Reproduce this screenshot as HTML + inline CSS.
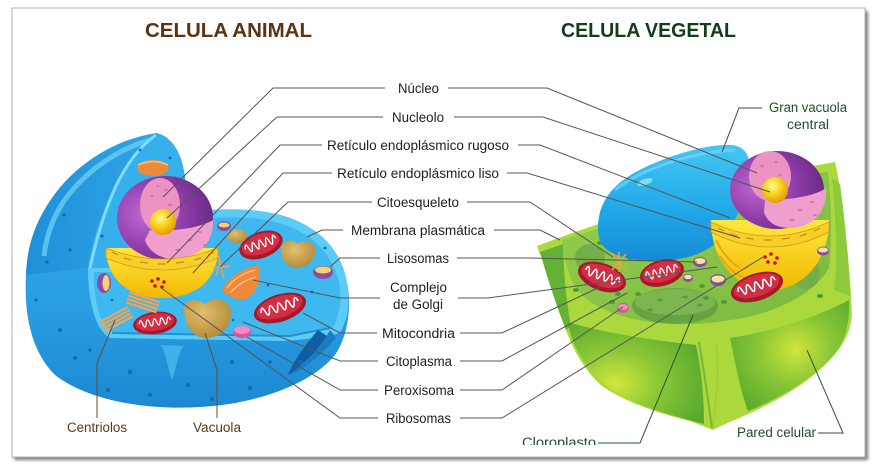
<!DOCTYPE html>
<html><head><meta charset="utf-8"><style>
html,body{margin:0;padding:0;background:#fff;width:877px;height:473px;overflow:hidden}
svg{display:block}
text{font-family:"Liberation Sans",sans-serif}
</style></head><body>
<svg width="877" height="473" viewBox="0 0 877 473" xmlns="http://www.w3.org/2000/svg">
<defs>
<filter id="sh" x="-5%" y="-5%" width="110%" height="110%"><feGaussianBlur stdDeviation="1.6"/></filter>
<linearGradient id="aBody" x1="0" y1="0" x2="0" y2="1"><stop offset="0" stop-color="#39adea"/><stop offset="0.6" stop-color="#2a9fe3"/><stop offset="1" stop-color="#1c88d2"/></linearGradient>
<linearGradient id="aDome" x1="0" y1="0" x2="1" y2="0"><stop offset="0" stop-color="#1f8fd8"/><stop offset="1" stop-color="#2ea6e7"/></linearGradient>
<radialGradient id="nucP" cx="0.3" cy="0.45" r="0.7"><stop offset="0" stop-color="#bf6ad4"/><stop offset="0.6" stop-color="#8d3ca8"/><stop offset="1" stop-color="#6a2a88"/></radialGradient>
<radialGradient id="nucl" cx="0.4" cy="0.35" r="0.65"><stop offset="0" stop-color="#fffa9a"/><stop offset="0.5" stop-color="#f8d21a"/><stop offset="1" stop-color="#e59d00"/></radialGradient>
<linearGradient id="erY" x1="0" y1="0" x2="0" y2="1"><stop offset="0" stop-color="#ffe640"/><stop offset="1" stop-color="#f2b900"/></linearGradient>
<radialGradient id="brown" cx="0.4" cy="0.35" r="0.7"><stop offset="0" stop-color="#e3bf6e"/><stop offset="1" stop-color="#b08a38"/></radialGradient>
<radialGradient id="pillowL" cx="0.35" cy="0.6" r="0.7"><stop offset="0" stop-color="#d3e63c"/><stop offset="0.45" stop-color="#8cc836"/><stop offset="1" stop-color="#58a82e"/></radialGradient>
<radialGradient id="pillowR" cx="0.55" cy="0.45" r="0.7"><stop offset="0" stop-color="#d0e43c"/><stop offset="0.45" stop-color="#88c636"/><stop offset="1" stop-color="#56a62e"/></radialGradient>
<linearGradient id="cyto" x1="0" y1="0" x2="1" y2="1"><stop offset="0" stop-color="#98cf4e"/><stop offset="1" stop-color="#78b93f"/></linearGradient>
<linearGradient id="vac" x1="0" y1="0" x2="0" y2="1"><stop offset="0" stop-color="#45c6f4"/><stop offset="0.55" stop-color="#22a9e8"/><stop offset="1" stop-color="#158ad6"/></linearGradient>
<g id="mito">
 <ellipse rx="25" ry="13" fill="#a8172a"/>
 <ellipse rx="22" ry="10" cy="-1" fill="#d22f44"/>
 <path d="M-18,-1 q2,-8 4,0 q2,8 4,0 q2,-8 4,0 q2,8 4,0 q2,-8 4,0 q2,8 4,0 q2,-8 4,0 q2,8 4,0 q2,-8 4,0" fill="none" stroke="#fff" stroke-width="1.5"/>
</g>
<clipPath id="clipCl"><rect x="500" y="425" width="120" height="20"/></clipPath>
</defs>

<rect width="877" height="473" fill="#fff"/>
<!-- frame -->
<rect x="14" y="11" width="854" height="449" fill="#7a7a7a" filter="url(#sh)"/>
<rect x="12" y="8" width="853" height="449" fill="#fff" stroke="#b0b0b0" stroke-width="1"/>

<!-- titles -->
<text x="145" y="37" font-size="20" font-weight="bold" fill="#5c3311" textLength="167" lengthAdjust="spacingAndGlyphs">CELULA ANIMAL</text>
<text x="561" y="37" font-size="20" font-weight="bold" fill="#123d1c" textLength="175" lengthAdjust="spacingAndGlyphs">CELULA VEGETAL</text>

<!-- ================= ANIMAL CELL ================= -->
<path d="M157,133 C120,138 82,160 58,190 C36,218 27,245 26,275 C24,312 30,350 55,375 C90,402 150,410 200,407 C262,404 318,380 337,352 C350,330 351,300 347,283 C342,252 322,230 290,218 C262,208 222,208 188,213 L186,185 C184,160 176,138 157,133 Z" fill="url(#aBody)"/>
<!-- dome outer darker left -->
<path d="M157,133 C120,138 82,160 58,190 C36,218 27,245 26,275 L88,268 C92,240 102,210 118,180 C130,158 143,140 157,133 Z" fill="url(#aDome)"/>
<path d="M150,140 C115,150 82,174 62,204 C52,220 46,238 44,256" fill="none" stroke="#72d3f7" stroke-width="5" opacity="0.7"/>
<!-- dome inner face -->
<path d="M157,133 C176,140 184,162 186,190 L188,268 L88,268 C92,240 102,210 118,180 C130,158 143,140 157,133 Z" fill="#36b0ec"/>
<path d="M156,135 C140,146 126,165 116,186 C104,212 96,240 90,268" fill="none" stroke="#7fdcfa" stroke-width="3"/>
<!-- top surface / floor -->
<path d="M186,213 C222,207 262,208 290,218 C322,230 342,252 347,283 C350,300 349,318 340,333 C322,338 300,340 282,341 L110,338 C95,330 88,300 88,268 L186,268 Z" fill="#5ccbf5"/>
<path d="M190,220 C225,215 262,216 288,226 C316,237 334,258 339,283 C342,300 340,314 333,327 L290,335 L112,332 C98,322 94,298 94,272 L190,272 Z" fill="#3fb7ef"/>
<path d="M112,333 L290,336 L330,328" fill="none" stroke="#2290d6" stroke-width="2"/>
<!-- notch -->
<path d="M318,330 C306,344 294,360 288,375 C298,370 310,356 330,338 Z" fill="#0d5ea4"/>
<path d="M330,330 C322,345 305,365 288,376 C300,372 322,355 336,338 Z" fill="#1b7cc4"/>
<!-- drip -->
<path d="M160,345 C166,350 168,370 172,380 C176,370 178,352 184,346 Z" fill="#4ab9ed" opacity="0.8"/>
<!-- dots -->
<g fill="#1568b0">
<circle cx="60" cy="330" r="2"/><circle cx="75" cy="358" r="2"/><circle cx="130" cy="372" r="2.2"/><circle cx="150" cy="395" r="2"/><circle cx="188" cy="385" r="2"/><circle cx="250" cy="388" r="2.2"/><circle cx="212" cy="399" r="2"/><circle cx="36" cy="300" r="1.6"/><circle cx="47" cy="262" r="1.6"/><circle cx="70" cy="250" r="1.6"/><circle cx="64" cy="215" r="1.6"/><circle cx="102" cy="236" r="1.6"/><circle cx="140" cy="150" r="1.4"/><circle cx="170" cy="158" r="1.4"/><circle cx="175" cy="178" r="1.4"/><circle cx="300" cy="362" r="2"/><circle cx="232" cy="362" r="2"/><circle cx="108" cy="390" r="2"/><circle cx="270" cy="362" r="1.8"/><circle cx="90" cy="350" r="1.8"/>
<circle cx="325" cy="248" r="1.4"/><circle cx="268" cy="285" r="1.4"/><circle cx="312" cy="292" r="1.4"/><circle cx="233" cy="320" r="1.3"/><circle cx="112" cy="300" r="1.3"/>
</g>
<!-- dome golgi -->
<ellipse cx="153" cy="168" rx="16" ry="8" fill="#eb8b3a"/>
<path d="M138,165 Q153,158 168,165" fill="none" stroke="#f7c48a" stroke-width="1.5"/>
<!-- ER bowl -->
<path d="M106,248 C106,280 130,298 162,298 C196,298 218,280 218,248 Z" fill="url(#erY)"/>
<!-- nucleus -->
<ellipse cx="165" cy="218" rx="48" ry="42" fill="url(#nucP)"/>
<ellipse cx="160" cy="205" rx="20" ry="27" fill="#ec93c4"/>
<path d="M150,230 C172,232 200,228 213,220 C214,245 196,259 172,259 C158,258 148,250 145,240 Z" fill="#f09ecb"/>
<g fill="#d873ad"><ellipse cx="152" cy="196" rx="2" ry="1.2"/><ellipse cx="166" cy="190" rx="2" ry="1.2"/><ellipse cx="158" cy="186" rx="1.5" ry="1"/><ellipse cx="170" cy="205" rx="2" ry="1.2"/><ellipse cx="190" cy="240" rx="2.5" ry="1.2"/><ellipse cx="200" cy="232" rx="2" ry="1"/><ellipse cx="178" cy="250" rx="2.5" ry="1.2"/><ellipse cx="205" cy="245" rx="2" ry="1"/></g>
<circle cx="163" cy="222" r="13" fill="url(#nucl)"/>
<!-- ER band -->
<path d="M106,248 Q162,270 218,248 L218,258 Q162,282 106,258 Z" fill="#f6cf2a" stroke="#d59d12" stroke-width="0.8"/>
<path d="M112,252 l6,3 M124,258 l7,2 M140,262 l8,1 M158,264 l8,0 M176,263 l8,-1 M194,260 l7,-2 M208,255 l6,-3" stroke="#c98e10" stroke-width="1.2"/>
<!-- ribosomes -->
<g fill="#c0142a"><circle cx="152" cy="281" r="1.8"/><circle cx="158" cy="279" r="1.8"/><circle cx="164" cy="282" r="1.8"/><circle cx="155" cy="286" r="1.8"/><circle cx="162" cy="287" r="1.8"/></g>
<!-- mitochondria -->
<use href="#mito" transform="translate(261,245) rotate(-20) scale(0.9,1)"/>
<use href="#mito" transform="translate(280,308) rotate(-18) scale(1.08,1.05)"/>
<use href="#mito" transform="translate(155,323) rotate(-8) scale(0.88,0.85)"/>
<!-- vacuoles -->
<path d="M184,312 C182,300 195,297 205,304 C214,296 231,298 231,313 C231,329 218,338 206,338 C193,338 185,326 184,312 Z" fill="url(#brown)"/>
<path d="M281,250 C281,240 292,238 298,244 C305,238 316,242 315,252 C314,262 305,268 297,268 C288,268 281,260 281,250 Z" fill="url(#brown)"/>
<ellipse cx="237" cy="236" rx="10" ry="7" fill="url(#brown)"/>
<!-- golgi -->
<path d="M222,290 C228,276 245,268 258,265 C263,275 258,290 248,298 C240,301 228,298 222,290 Z" fill="#f0883a"/>
<path d="M227,288 C234,278 246,272 255,270 M230,293 C238,284 248,279 256,277" fill="none" stroke="#ffc58e" stroke-width="1.3"/>
<!-- lysosomes -->
<path d="M313,272 a10,6 0 0 1 20,0 a10,7 0 0 1 -20,0 Z" fill="#8e4aa8"/><ellipse cx="323" cy="270" rx="8" ry="3.5" fill="#f2d36a"/>
<path d="M217,226 a7,5 0 0 1 14,0 a7,5 0 0 1 -14,0 Z" fill="#8e4aa8"/><ellipse cx="224" cy="225" rx="5.5" ry="2.5" fill="#f2d36a"/>
<ellipse cx="104" cy="283" rx="7" ry="10" fill="#8e4aa8"/><ellipse cx="106" cy="283" rx="3.5" ry="8" fill="#f2d36a"/>
<!-- peroxisome -->
<ellipse cx="242" cy="332" rx="9" ry="6" fill="#d9569a"/><ellipse cx="242" cy="330" rx="8" ry="4" fill="#f08cc0"/>
<!-- centrioles -->
<g transform="translate(143,302) rotate(18)" fill="#f2a455"><rect x="-16" y="-6" width="32" height="2.2"/><rect x="-16" y="-2.5" width="32" height="2.2"/><rect x="-16" y="1" width="32" height="2.2"/><rect x="-16" y="4.5" width="32" height="2.2"/></g>
<g transform="translate(116,319) rotate(-28)" fill="#f2a455"><rect x="-16" y="-6" width="32" height="2.2"/><rect x="-16" y="-2.5" width="32" height="2.2"/><rect x="-16" y="1" width="32" height="2.2"/><rect x="-16" y="4.5" width="32" height="2.2"/></g>
<!-- cytoskeleton -->
<path d="M218,256 L224,279 M213,268 L230,266 M221,260 L216,276" stroke="#e9a150" stroke-width="1.5"/>

<!-- ================= PLANT CELL ================= -->
<path d="M537,246 C548,275 556,300 566,330 C574,352 586,372 602,386 C625,402 660,414 690,421 L713,430 C722,425 735,420 748,414 C780,400 808,382 826,364 C840,350 850,336 852,316 C851,285 847,240 842,205 C840,188 838,174 835,162 C800,168 760,176 720,186 L605,222 C580,230 558,238 537,246 Z" fill="#abd93d"/>
<path d="M540,252 C548,280 556,305 566,330 L571,326 C566,300 564,275 563,244 Z" fill="#64b233"/>
<path d="M832,178 C836,220 838,260 834,290 L850,296 C849,262 845,220 840,184 Z" fill="#8ecb3c"/>
<path d="M568,322 C600,332 650,340 696,345 C702,372 704,400 704,424 C680,418 655,411 630,400 C605,388 590,372 580,355 C574,345 570,335 568,322 Z" fill="url(#pillowL)"/>
<path d="M730,338 C770,332 815,318 849,300 C850,322 846,340 833,356 C815,376 785,396 748,411 C740,390 735,362 730,338 Z" fill="url(#pillowR)"/>
<path d="M699,342 C704,370 708,400 712,428" stroke="#79b834" stroke-width="2" fill="none"/>
<path d="M716,344 C720,372 716,400 713,428" stroke="#9ccf3a" stroke-width="1.5" fill="none"/>
<!-- cavity -->
<path d="M562,240 C600,228 650,212 700,198 C745,186 790,176 828,172 C832,205 832,240 829,268 C815,292 785,308 748,317 C715,324 680,326 650,322 C620,318 596,308 583,296 C570,284 565,265 562,240 Z" fill="url(#cyto)"/>
<!-- chloroplasts -->
<ellipse cx="590" cy="258" rx="15" ry="14" fill="#74ae48"/>
<ellipse cx="806" cy="273" rx="14" ry="16" fill="#74ae48"/>
<ellipse cx="675" cy="306" rx="43" ry="18" fill="#68a342"/>
<ellipse cx="675" cy="302" rx="40" ry="13" fill="#7db650"/>
<g fill="#5f9a3c"><ellipse cx="660" cy="300" rx="3" ry="1.5"/><ellipse cx="685" cy="297" rx="3" ry="1.5"/><ellipse cx="700" cy="305" rx="3" ry="1.5"/><ellipse cx="650" cy="310" rx="3" ry="1.5"/></g>
<!-- green dots -->
<g fill="#4f9a30"><ellipse cx="630" cy="258" rx="3" ry="2"/><ellipse cx="645" cy="250" rx="3" ry="2"/><ellipse cx="618" cy="294" rx="3" ry="2"/><ellipse cx="702" cy="286" rx="3" ry="2"/><ellipse cx="706" cy="298" rx="3" ry="2"/><ellipse cx="724" cy="302" rx="3" ry="2"/><ellipse cx="638" cy="294" rx="3" ry="2"/><ellipse cx="690" cy="248" rx="3" ry="2"/><ellipse cx="576" cy="290" rx="3" ry="2"/><ellipse cx="816" cy="244" rx="3" ry="2"/><ellipse cx="820" cy="296" rx="3" ry="2"/><ellipse cx="612" cy="302" rx="3" ry="2"/><ellipse cx="600" cy="243" rx="3" ry="2"/></g>
<!-- vacuole -->
<path d="M598,228 C598,200 615,180 650,165 C680,152 710,144 732,145 C748,147 752,160 748,178 C742,205 735,228 718,242 C700,256 680,261 655,261 C630,261 610,255 602,245 C599,240 598,235 598,228 Z" fill="url(#vac)"/>
<path d="M615,190 C640,170 690,152 735,150" fill="none" stroke="#7fdaf8" stroke-width="3" opacity="0.6"/>
<ellipse cx="645" cy="182" rx="8" ry="3" fill="#a8ecfc" opacity="0.7" transform="rotate(-20 645 182)"/>
<!-- ER -->
<path d="M711,220 C711,262 738,290 770,290 C802,290 829,262 829,220 Z" fill="url(#erY)"/>
<path d="M716,240 C722,252 730,262 740,268 M720,256 C728,268 735,275 745,278" fill="none" stroke="#e4a812" stroke-width="2"/>
<!-- nucleus -->
<ellipse cx="777" cy="190" rx="47" ry="39" fill="url(#nucP)"/>
<ellipse cx="770" cy="176" rx="21" ry="25" fill="#ec93c4"/>
<path d="M765,200 C790,200 815,196 826,188 C828,214 810,228 790,228 C776,228 767,222 764,212 Z" fill="#f09ecb"/>
<g fill="#d873ad"><ellipse cx="762" cy="166" rx="2" ry="1.2"/><ellipse cx="776" cy="162" rx="2" ry="1.2"/><ellipse cx="780" cy="175" rx="1.5" ry="1"/><ellipse cx="800" cy="210" rx="2.5" ry="1.2"/><ellipse cx="812" cy="202" rx="2" ry="1"/><ellipse cx="792" cy="220" rx="2.5" ry="1.2"/><ellipse cx="815" cy="215" rx="2" ry="1"/></g>
<circle cx="775" cy="190" r="13" fill="url(#nucl)"/>
<path d="M711,222 Q770,250 829,222 L829,232 Q770,262 711,232 Z" fill="#f6cf2a" stroke="#d59d12" stroke-width="0.8"/>
<path d="M718,228 l6,3 M730,234 l7,2 M746,238 l8,1 M764,240 l8,0 M782,239 l8,-1 M800,236 l7,-2 M814,231 l6,-3" stroke="#c98e10" stroke-width="1.2"/>
<!-- ribosomes -->
<g fill="#c0142a"><circle cx="765" cy="257" r="1.8"/><circle cx="771" cy="254" r="1.8"/><circle cx="777" cy="258" r="1.8"/><circle cx="768" cy="262" r="1.8"/><circle cx="775" cy="263" r="1.8"/></g>
<!-- mitochondria -->
<use href="#mito" transform="translate(602,277) rotate(20) scale(1,1.05)"/>
<use href="#mito" transform="translate(662,273) rotate(-15) scale(0.9,1)"/>
<use href="#mito" transform="translate(757,287) rotate(-18) scale(1.08,1.05)"/>
<!-- lysosomes -->
<g><ellipse cx="700" cy="262" rx="7" ry="5" fill="#8e4aa8"/><ellipse cx="700" cy="261" rx="5.5" ry="3" fill="#f4e4a0"/></g>
<g><ellipse cx="718" cy="280" rx="8" ry="6" fill="#8e4aa8"/><ellipse cx="718" cy="279" rx="6.5" ry="3.5" fill="#f4e4a0"/></g>
<g><ellipse cx="688" cy="278" rx="5" ry="4" fill="#8e4aa8"/><ellipse cx="688" cy="277" rx="4" ry="2.2" fill="#f4e4a0"/></g>
<g><ellipse cx="823" cy="251" rx="6" ry="4.5" fill="#8e4aa8"/><ellipse cx="823" cy="250" rx="5" ry="2.5" fill="#f4e4a0"/></g>
<ellipse cx="623" cy="308" rx="6" ry="5" fill="#d9569a"/><ellipse cx="623" cy="307" rx="5" ry="3" fill="#f08cc0"/>
<path d="M612,254 L626,270 M626,254 L612,270 M619,252 L619,272" stroke="#f0a040" stroke-width="1.6"/>

<!-- ================= LEADER LINES ================= -->
<g fill="none" stroke="#555" stroke-width="1">
<polyline points="385,88 273,88 163,197"/>
<polyline points="383,117 277,117 167,218"/>
<polyline points="322,145 280,145 167,263"/>
<polyline points="332,173 283,173 193,273"/>
<polyline points="372,202 288,202 220,267"/>
<polyline points="343,230 322,230 307,237"/>
<polyline points="380,258 340,258 330,267"/>
<polyline points="380,298 340,298 253,280"/>
<polyline points="377,333 340,333 303,313"/>
<polyline points="378,361 340,361 243,322"/>
<polyline points="378,390 340,390 247,337"/>
<polyline points="378,418 340,418 160,287"/>
<polyline points="448,88 547,88 757,173"/>
<polyline points="454,117 543,117 770,192"/>
<polyline points="518,145 540,145 730,218"/>
<polyline points="507,173 527,173 740,238"/>
<polyline points="467,202 530,202 613,257"/>
<polyline points="494,230 540,230 560,240"/>
<polyline points="457,258 530,258 697,262"/>
<polyline points="458,298 488,298 717,267"/>
<polyline points="460,333 502,333 600,287"/>
<polyline points="460,361 502,361 627,293"/>
<polyline points="460,390 502,390 623,307"/>
<polyline points="460,418 502,418 763,257"/>
</g>
<g fill="none" stroke="#2c5236" stroke-width="1">
<polyline points="762,108 739,108 722,152"/>
<polyline points="598,443 640,443 693,315"/>
<polyline points="818,433 843,433 807,350"/>
</g>
<g fill="none" stroke="#6a4c2e" stroke-width="1">
<polyline points="97,418 97,363 115,320"/>
<polyline points="217,418 217,370 205,333"/>
</g>

<!-- ================= LABELS ================= -->
<g font-size="13.5" fill="#1e1e1e">
<text x="398" y="93" textLength="41" lengthAdjust="spacingAndGlyphs">Núcleo</text>
<text x="392" y="122" textLength="52" lengthAdjust="spacingAndGlyphs">Nucleolo</text>
<text x="327" y="150" textLength="182" lengthAdjust="spacingAndGlyphs">Retículo endoplásmico rugoso</text>
<text x="337" y="178" textLength="162" lengthAdjust="spacingAndGlyphs">Retículo endoplásmico liso</text>
<text x="377" y="207" textLength="82" lengthAdjust="spacingAndGlyphs">Citoesqueleto</text>
<text x="351" y="235" textLength="134" lengthAdjust="spacingAndGlyphs">Membrana plasmática</text>
<text x="387" y="263" textLength="62" lengthAdjust="spacingAndGlyphs">Lisosomas</text>
<text x="390" y="292" textLength="57" lengthAdjust="spacingAndGlyphs">Complejo</text>
<text x="393" y="309" textLength="50" lengthAdjust="spacingAndGlyphs">de Golgi</text>
<text x="382" y="338" textLength="73" lengthAdjust="spacingAndGlyphs">Mitocondria</text>
<text x="386" y="366" textLength="66" lengthAdjust="spacingAndGlyphs">Citoplasma</text>
<text x="384" y="395" textLength="70" lengthAdjust="spacingAndGlyphs">Peroxisoma</text>
<text x="386" y="423" textLength="65" lengthAdjust="spacingAndGlyphs">Ribosomas</text>
</g>
<g font-size="13.5" fill="#5d3a17">
<text x="67" y="432" textLength="60" lengthAdjust="spacingAndGlyphs">Centriolos</text>
<text x="193" y="432" textLength="48" lengthAdjust="spacingAndGlyphs">Vacuola</text>
</g>
<g font-size="13.5" fill="#1f4d2b">
<text x="769" y="112" textLength="78" lengthAdjust="spacingAndGlyphs">Gran vacuola</text>
<text x="787" y="129" textLength="42" lengthAdjust="spacingAndGlyphs">central</text>
<text x="737" y="437" textLength="79" lengthAdjust="spacingAndGlyphs">Pared celular</text>
<text x="522" y="447" textLength="74" lengthAdjust="spacingAndGlyphs" clip-path="url(#clipCl)">Cloroplasto</text>
</g>
</svg>
</body></html>
